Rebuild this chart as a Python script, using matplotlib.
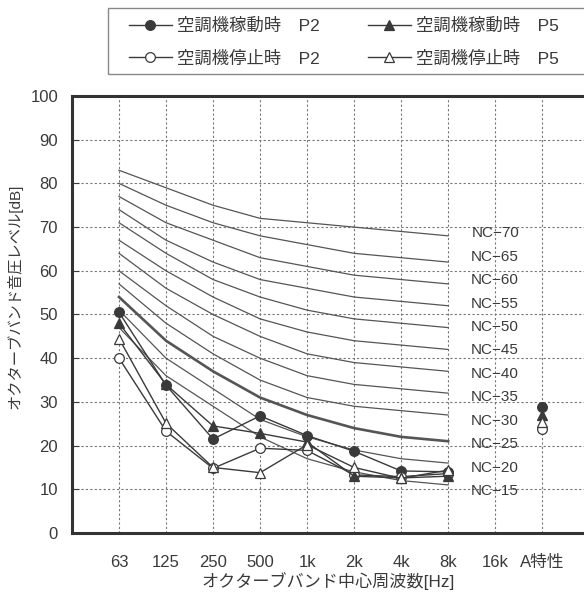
import numpy as np
import matplotlib
matplotlib.use("Agg")
import matplotlib.pyplot as plt
from matplotlib.patches import Rectangle

plt.rcParams['font.family'] = ['Liberation Sans', 'Noto Sans CJK JP']

# categories on the x axis
bands = ["63", "125", "250", "500", "1k", "2k", "4k", "8k", "16k", "A特性"]
octave = bands[:8]

# NC curves (63 Hz .. 8 kHz)
nc_names = [70, 65, 60, 55, 50, 45, 40, 35, 30, 25, 20, 15]
nc_values = {
    70: [83, 79, 75, 72, 71, 70, 69, 68],
    65: [80, 75, 71, 68, 66, 64, 63, 62],
    60: [77, 71, 67, 63, 61, 59, 58, 57],
    55: [74, 67, 62, 58, 56, 54, 53, 52],
    50: [71, 64, 58, 54, 51, 49, 48, 47],
    45: [67, 60, 54, 49, 46, 44, 43, 42],
    40: [64, 56, 50, 45, 41, 39, 38, 37],
    35: [60, 52, 45, 40, 36, 34, 33, 32],
    30: [57, 48, 41, 35, 31, 29, 28, 27],
    25: [54, 44, 37, 31, 27, 24, 22, 21],
    20: [51, 40, 33, 26, 22, 19, 17, 16],
    15: [47, 36, 29, 22, 17, 14, 12, 11],
}

# measured levels (63 Hz .. 8 kHz) and A-weighted value
run_p2 = [50.5, 33.8, 21.5, 26.8, 22.3, 18.7, 14.2, 14.0]
run_p5 = [48.0, 34.0, 24.5, 22.8, 20.8, 13.0, 12.6, 13.0]
stop_p2 = [40.0, 23.3, 14.8, 19.4, 18.9, 13.3, 12.9, 13.6]
stop_p5 = [44.5, 25.1, 15.0, 13.8, 20.2, 15.0, 12.5, 14.4]
a_run_p2, a_run_p5, a_stop_p2, a_stop_p5 = 28.9, 27.0, 23.8, 25.4

fig = plt.figure(figsize=(5.84, 5.94), dpi=100)
ax = fig.add_axes([72 / 584, 1 - 533 / 594, 1 - 72 / 584, (533 - 96) / 594])

x = np.arange(len(octave))
xa = bands.index("A特性")
ink = "#3a3a3a"

for n in nc_names:
    ax.plot(x, nc_values[n], color="#555555", lw=1.9 if n == 25 else 0.9, zorder=2)

nc_label_y = np.linspace(68.6, 9.6, len(nc_names))
for n, ly in zip(nc_names, nc_label_y):
    ax.text(8, ly, f"NC\u2212{n}", ha="center", va="center", fontsize=11, color=ink, zorder=3)

series = [
    (run_p2, a_run_p2, "o", ink, "空調機稼動時\u3000P2"),
    (stop_p2, a_stop_p2, "o", "white", "空調機停止時\u3000P2"),
    (run_p5, a_run_p5, "^", ink, "空調機稼動時\u3000P5"),
    (stop_p5, a_stop_p5, "^", "white", "空調機停止時\u3000P5"),
]
handles = []
for vals, aval, mk, fc, lab in series:
    h, = ax.plot(x, vals, marker=mk, color=ink, mfc=fc, mec=ink, ms=7, mew=0.9,
                 lw=1.0, zorder=4, label=lab)
    ax.plot([xa], [aval], marker=mk, color=ink, mfc=fc, mec=ink, ms=7, mew=0.9,
            ls="none", zorder=4)
    handles.append(h)

ax.set_xlim(-1, 9.89)
ax.set_ylim(0, 100)
ax.set_xticks(range(len(bands)))
ax.set_xticklabels(bands)
ax.set_yticks(range(0, 101, 10))
ax.grid(True, color="#777777", ls=(0, (2, 2)), lw=0.8)
ax.set_axisbelow(True)
ax.tick_params(axis="x", length=0, pad=16, labelsize=12, colors=ink)
ax.tick_params(axis="y", direction="in", length=5, pad=10, labelsize=12, colors=ink)
for s in ["left", "bottom", "top"]:
    ax.spines[s].set_linewidth(2.2)
    ax.spines[s].set_color("#333333")
ax.spines["right"].set_visible(False)

ax.set_xlabel("オクターブバンド中心周波数[Hz]", fontsize=12.3, color=ink, labelpad=1)
ax.set_ylabel("オクターブバンド音圧レベル[dB]", fontsize=11, color=ink)
ax.yaxis.set_label_coords(-0.097, 0.542)

# legend box
fig.patches.append(Rectangle((108 / 584, 1 - 74 / 594), 0.9, 66 / 594,
                             transform=fig.transFigure, fill=False,
                             ec="#888888", lw=1.0))
fig.legend(handles=handles, ncol=2, loc="upper left",
           bbox_to_anchor=(120 / 584, 1 - 9 / 594), frameon=False,
           fontsize=12.5, handlelength=2.5, handletextpad=0.3,
           columnspacing=2.75, labelspacing=0.95, borderpad=0, labelcolor=ink)

fig.savefig("out.png", dpi=100)
